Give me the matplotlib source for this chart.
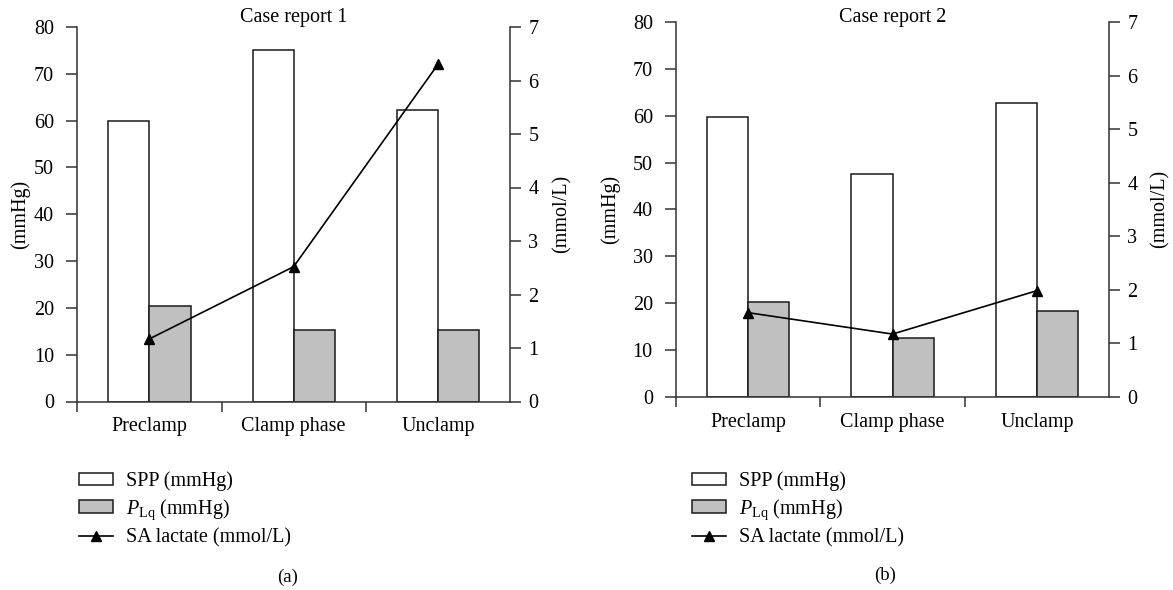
import matplotlib
matplotlib.use("Agg")
import matplotlib.pyplot as plt
import numpy as np
from matplotlib.patches import Patch
from matplotlib.lines import Line2D

plt.rcParams['font.family'] = ['Liberation Serif', 'DejaVu Serif']
plt.rcParams['mathtext.fontset'] = 'custom'
plt.rcParams['mathtext.rm'] = 'Liberation Serif'
plt.rcParams['mathtext.it'] = 'Liberation Serif:italic'

categories = ["Preclamp", "Clamp phase", "Unclamp"]
titles = ["Case report 1", "Case report 2"]
panel_labels = ["(a)", "(b)"]

spp_case1 = [60.0, 75.0, 62.3]
plq_case1 = [20.3, 15.3, 15.3]
lactate_case1 = [1.17, 2.52, 6.3]

spp_case2 = [59.8, 47.5, 62.6]
plq_case2 = [20.2, 12.6, 18.2]
lactate_case2 = [1.57, 1.17, 1.98]

left_ticks = [0, 10, 20, 30, 40, 50, 60, 70, 80]
right_ticks = [0, 1, 2, 3, 4, 5, 6, 7]

legend_labels = ["SPP (mmHg)", r"$P_{\mathrm{Lq}}$ (mmHg)", "SA lactate (mmol/L)"]

W, H = 1173, 590
fig = plt.figure(figsize=(W / 100, H / 100), dpi=100)

FS = 14.5
GRAY = '#c0c0c0'
SPINE = '#333333'

panels = [
    dict(pos=[77.3 / W, 1 - 401.5 / H, (510 - 77.3) / W, (401.5 - 27) / H],
         spp=spp_case1, plq=plq_case1, lac=lactate_case1,
         leg=(79 / W, 1 - 471 / H), lab=(288 / W, 1 - 577 / H),
         ylab_l=20, ylab_r=562),
    dict(pos=[676 / W, 1 - 396.7 / H, (1109 - 676) / W, (396.7 - 22) / H],
         spp=spp_case2, plq=plq_case2, lac=lactate_case2,
         leg=(692 / W, 1 - 471 / H), lab=(885 / W, 1 - 575 / H),
         ylab_l=610, ylab_r=1160),
]

w = 0.285
x = np.arange(len(categories))

for i, p in enumerate(panels):
    ax = fig.add_axes(p['pos'])
    ax2 = ax.twinx()
    ax.bar(x - w / 2, p['spp'], w, color='white', edgecolor='#1a1a1a', linewidth=1.1, zorder=2)
    ax.bar(x + w / 2, p['plq'], w, color=GRAY, edgecolor='#1a1a1a', linewidth=1.1, zorder=2)
    ax2.plot(x, p['lac'], color='black', linewidth=1.2, marker='^', markersize=7.5, zorder=3)

    ax.set_xlim(-0.5, 2.5)
    ax.set_ylim(0, 80)
    ax2.set_ylim(0, 7)
    ax.set_yticks(left_ticks)
    ax2.set_yticks(right_ticks)

    ax.set_xticks([-0.5, 0.5, 1.5])
    ax.set_xticklabels([])
    ax.set_xticks(x, minor=True)
    ax.set_xticklabels(categories, minor=True, fontsize=FS)
    ax.tick_params(axis='x', which='major', direction='out', length=7.5, width=1.1, color=SPINE)
    ax.tick_params(axis='x', which='minor', length=0, pad=11.5)
    ax.tick_params(axis='y', direction='out', length=7.7, width=1.1, color=SPINE, labelsize=FS, pad=9)
    ax2.tick_params(axis='y', direction='out', length=7.7, width=1.1, color=SPINE, labelsize=FS, pad=5.5)

    for a in (ax, ax2):
        a.spines['top'].set_visible(False)
        for s in a.spines.values():
            s.set_color(SPINE)
            s.set_linewidth(1.1)
    ax2.spines['left'].set_visible(False)
    ax2.spines['bottom'].set_visible(False)
    ax.spines['right'].set_visible(False)

    bb = p['pos']
    cx = bb[0] + bb[2] / 2
    cy = bb[1] + bb[3] / 2
    fig.text(cx, 1 - 22 / H, titles[i], ha='center', va='baseline', fontsize=FS)
    fig.text(p['ylab_l'] / W, cy, "(mmHg)", rotation=90, ha='center', va='center', fontsize=FS)
    fig.text(p['ylab_r'] / W, cy, "(mmol/L)", rotation=90, ha='center', va='center', fontsize=FS)
    fig.text(p['lab'][0], p['lab'][1], panel_labels[i], ha='center', va='center', fontsize=FS - 1)

    handles = [
        Patch(facecolor='white', edgecolor='#1a1a1a', linewidth=1.1),
        Patch(facecolor=GRAY, edgecolor='#1a1a1a', linewidth=1.1),
        Line2D([], [], color='black', linewidth=1.2, marker='^', markersize=7.5),
    ]
    ax.legend(handles, legend_labels, loc='upper left', bbox_to_anchor=p['leg'],
              bbox_transform=fig.transFigure, frameon=False, borderpad=0, borderaxespad=0,
              fontsize=FS, handlelength=1.7, handleheight=0.55, handletextpad=0.65,
              labelspacing=0.32)

fig.savefig("out.png", dpi=100)
